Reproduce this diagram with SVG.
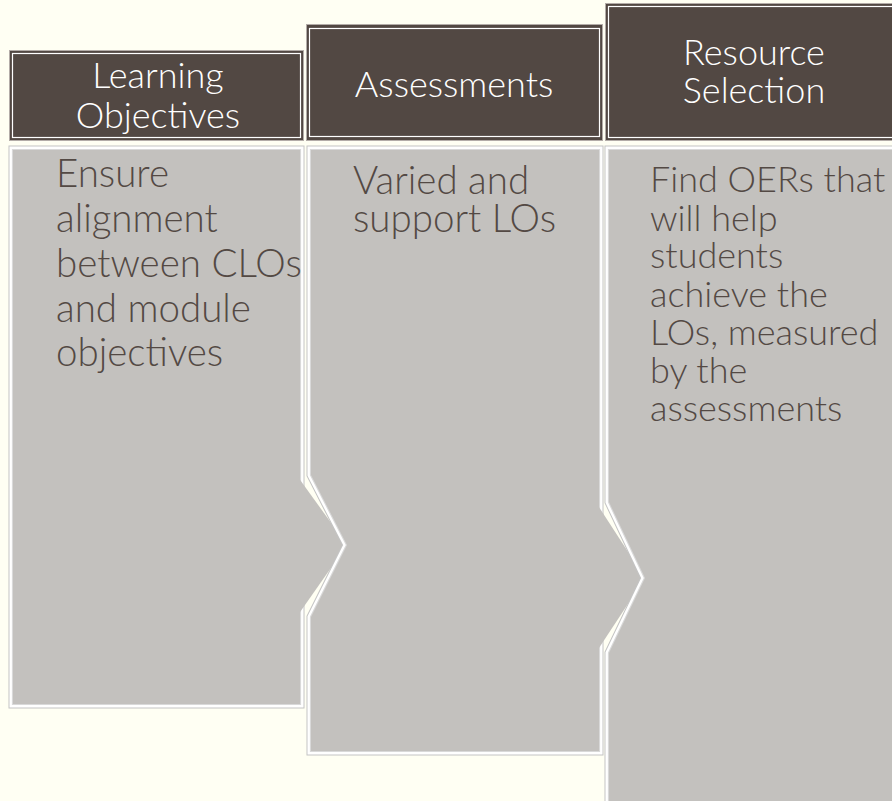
<svg xmlns="http://www.w3.org/2000/svg" xmlns:xlink="http://www.w3.org/1999/xlink" width="892" height="801" viewBox="0 0 892 801">
<style>
.bg{fill:#fffff3}
.hd{fill:#524843;stroke:#b3aca8;stroke-width:1}
.hdi{fill:none;stroke:#ffffff;stroke-width:1.2}
.b1{fill:none;stroke:#c4c4c4;stroke-width:9;stroke-linejoin:miter}
.b2{fill:none;stroke:#ffffff;stroke-width:7;stroke-linejoin:miter}
.b3{fill:none;stroke:#d9d9d9;stroke-width:2.2;stroke-linejoin:miter}
.bf{fill:#c3c1be;stroke:none}
.ht{font-family:Lato,"Liberation Sans",sans-serif;font-weight:300;font-size:36px;fill:#ffffff;text-anchor:middle}
.bt{font-family:Lato,"Liberation Sans",sans-serif;font-weight:300;font-size:36px;fill:#534944}
.bl{font-size:38.5px}
</style>
<defs>
<path id="p1" d="M13,150 H300 V704 H13 Z"/>
<path id="p2" d="M311,150 H599 V751 H311 V617 L347,545 L311,475 Z"/>
<path id="p3" d="M609,150 H905 V815 H609 V653 L645,578 L609,502 Z"/>
</defs>
<rect class="bg" x="0" y="0" width="892" height="801"/>
<g id="connectors"></g>
<g id="node-learning-objectives">
<rect class="hd" x="9.5" y="50.5" width="294" height="90"/>
<rect class="hdi" x="12.5" y="53.5" width="288" height="84"/>
<text class="ht" x="158" y="88">Learning</text>
<text class="ht" x="158" y="128">Objectives</text>
<use xlink:href="#p1" class="b1"/>
<use xlink:href="#p1" class="b2"/>
<use xlink:href="#p1" class="b3"/>
<use xlink:href="#p1" class="bf"/>
<polygon class="bf" points="298,477 347,545 298,615"/>
<text class="bt bl" x="56" y="187">Ensure</text>
<text class="bt bl" x="56" y="232">alignment</text>
<text class="bt bl" x="56" y="277">between CLOs</text>
<text class="bt bl" x="56" y="322">and module</text>
<text class="bt bl" x="56" y="366">objectives</text>
</g>
<g id="node-assessments">
<rect class="hd" x="306.5" y="24.5" width="296" height="116"/>
<rect class="hdi" x="309.5" y="28.5" width="290" height="108"/>
<text class="ht" x="454" y="97">Assessments</text>
<use xlink:href="#p2" class="b1"/>
<use xlink:href="#p2" class="b2"/>
<use xlink:href="#p2" class="b3"/>
<use xlink:href="#p2" class="bf"/>
<polygon class="bf" points="597,504 645,578 597,651"/>
<text class="bt bl" x="353" y="194">Varied and</text>
<text class="bt bl" x="353" y="232">support LOs</text>
</g>
<g id="node-resource-selection">
<rect class="hd" x="605.5" y="3.5" width="300" height="137"/>
<rect class="hdi" x="608.5" y="6.5" width="300" height="131"/>
<text class="ht" x="754" y="65">Resource</text>
<text class="ht" x="754" y="103">Selection</text>
<use xlink:href="#p3" class="b1"/>
<use xlink:href="#p3" class="b2"/>
<use xlink:href="#p3" class="b3"/>
<use xlink:href="#p3" class="bf"/>
<text class="bt" x="650" y="192">Find OERs that</text>
<text class="bt" x="650" y="231">will help</text>
<text class="bt" x="650" y="268">students</text>
<text class="bt" x="650" y="307">achieve the</text>
<text class="bt" x="650" y="345">LOs, measured</text>
<text class="bt" x="650" y="383">by the</text>
<text class="bt" x="650" y="421">assessments</text>
</g>
</svg>
